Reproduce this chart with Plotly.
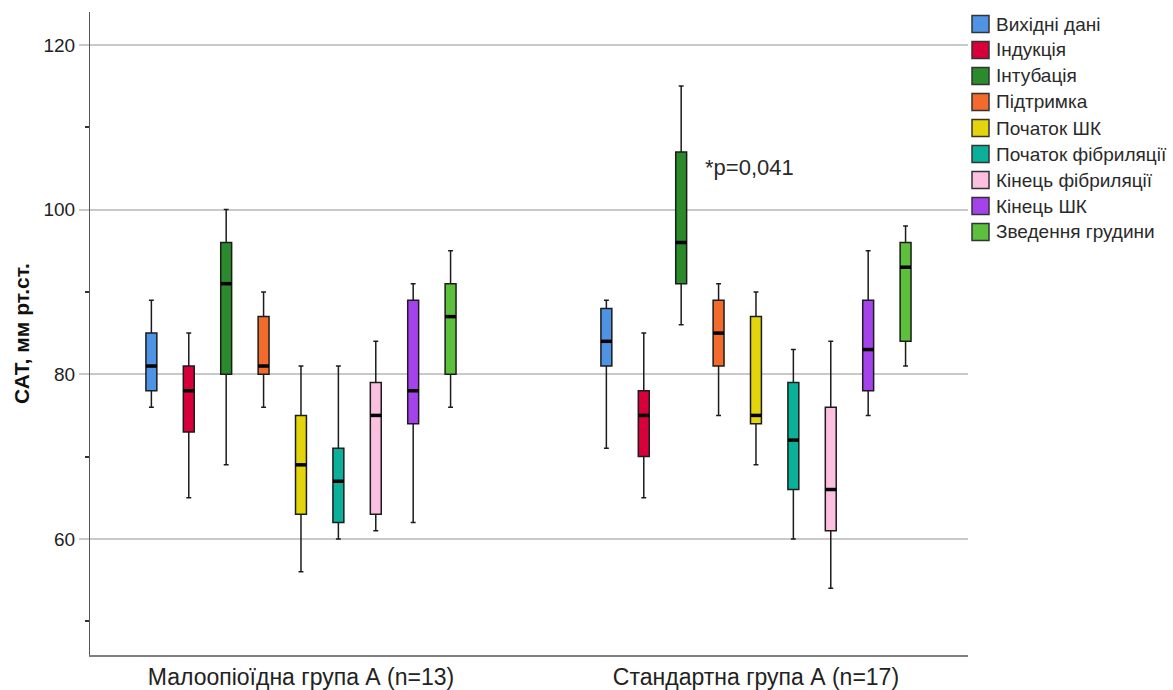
import plotly.graph_objects as go

# Groups (x categories) and measurement stages (series)
groups = ["Малоопіоїдна група А (n=13)", "Стандартна група А (n=17)"]
stages = [
    "Вихідні дані",
    "Індукція",
    "Інтубація",
    "Підтримка",
    "Початок ШК",
    "Початок фібриляції",
    "Кінець фібриляції",
    "Кінець ШК",
    "Зведення грудини",
]
colors = ["#4f93e4", "#d7003a", "#2b8a2b", "#f26a2c", "#e3d40c",
          "#0bb09b", "#fbbfdf", "#a443ec", "#5cc03c"]

# Box statistics per stage: [group 1, group 2]
lower = [[76, 71], [65, 65], [69, 86], [76, 75], [56, 69], [60, 60], [61, 54], [62, 75], [76, 81]]
q1 = [[78, 81], [73, 70], [80, 91], [80, 81], [63, 74], [62, 66], [63, 61], [74, 78], [80, 84]]
median = [[81, 84], [78, 75], [91, 96], [81, 85], [69, 75], [67, 72], [75, 66], [78, 83], [87, 93]]
q3 = [[85, 88], [81, 78], [96, 107], [87, 89], [75, 87], [71, 79], [79, 76], [89, 89], [91, 96]]
upper = [[89, 89], [85, 85], [100, 115], [90, 91], [81, 90], [81, 83], [84, 84], [91, 95], [95, 98]]

y_ticks = [60, 80, 100, 120]
y_minor = [50, 70, 90, 110]
note_text = "*p=0,041"

W, H = 1173, 690
M_L, M_R, M_T, M_B = 90, 205, 12, 35
plot_w = W - M_L - M_R
plot_h = H - M_T - M_B

slot = 0.0822      # spacing between neighbouring boxes within a group
box_w = 0.024      # box width in axis units
n = len(stages)

fig = go.Figure()
med_x, med_y = [], []
for i, name in enumerate(stages):
    xs = [g + (i - (n - 1) / 2) * slot for g in range(len(groups))]
    fig.add_trace(go.Box(
        name=name,
        x=xs,
        lowerfence=lower[i], q1=q1[i], median=median[i], q3=q3[i], upperfence=upper[i],
        width=box_w,
        whiskerwidth=0.45,
        fillcolor=colors[i],
        line=dict(color="#1c1c1c", width=1.5),
        boxpoints=False,
        hoverinfo="skip",
        showlegend=False,
    ))
    for x, m in zip(xs, median[i]):
        med_x += [x - box_w / 2, x + box_w / 2, None]
        med_y += [m, m, None]

# Heavy median bars
fig.add_trace(go.Scatter(
    x=med_x, y=med_y, mode="lines",
    line=dict(color="black", width=3.5),
    showlegend=False, hoverinfo="skip",
))

# Legend block to the right of the plot: square swatch + label per stage
def px_to_paper_x(px):
    return (px - M_L) / plot_w

def px_to_paper_y(py):
    return (H - M_B - py) / plot_h

sw_left, sw_size, row_h, first_row = 972, 17, 26, 24
for k, (name, c) in enumerate(zip(stages, colors)):
    cy = first_row + k * row_h
    fig.add_shape(
        type="rect", xref="paper", yref="paper",
        x0=px_to_paper_x(sw_left), x1=px_to_paper_x(sw_left + sw_size),
        y0=px_to_paper_y(cy + sw_size / 2), y1=px_to_paper_y(cy - sw_size / 2),
        fillcolor=c, line=dict(color="#333", width=1.5), layer="above",
    )
    fig.add_annotation(
        xref="paper", yref="paper",
        x=px_to_paper_x(sw_left + sw_size + 5), y=px_to_paper_y(cy),
        text=name, showarrow=False, xanchor="left", yanchor="middle",
        font=dict(family="Liberation Sans", size=19, color="#2a2a2a"),
    )

fig.add_annotation(
    x=0.8835, y=105.1, text=note_text, showarrow=False,
    xanchor="left", yanchor="middle",
    font=dict(family="Liberation Sans", size=22, color="#2a2a2a"),
)

fig.update_layout(
    width=W, height=H,
    margin=dict(l=M_L, r=M_R, t=M_T, b=M_B),
    paper_bgcolor="white", plot_bgcolor="white",
    font=dict(family="Liberation Sans", color="#222"),
    showlegend=False,
    xaxis=dict(
        range=[-0.4637, 1.466],
        tickvals=list(range(len(groups))), ticktext=groups,
        tickfont=dict(family="Liberation Sans", size=23, color="#222"),
        showgrid=False, zeroline=False,
        showline=True, linecolor="#7f7f7f", linewidth=2,
        ticks="", ticklabelstandoff=0, automargin=False,
    ),
    yaxis=dict(
        range=[45.9, 124.0],
        tickvals=y_ticks,
        tickfont=dict(family="Liberation Sans", size=19, color="#222"),
        showgrid=True, gridcolor="#c9c9c9", gridwidth=1.5,
        zeroline=False,
        showline=True, linecolor="#555", linewidth=1,
        ticks="outside", ticklen=10, tickcolor="#c9c9c9", tickwidth=1.5,
        minor=dict(tickvals=y_minor, ticks="outside", ticklen=4,
                   tickcolor="#333", showgrid=False),
        automargin=False,
        title=dict(text="<b>САТ, мм рт.ст.</b>",
                   font=dict(family="Liberation Sans Narrow, Liberation Sans", size=21, color="#111"),
                   standoff=8),
    ),
)

fig.write_html("out.html")
